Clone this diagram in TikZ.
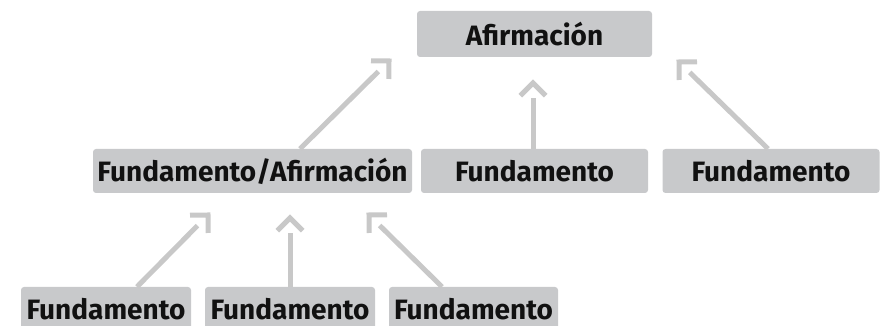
\documentclass[tikz,border=0pt]{standalone}
\usepackage{fontspec}
\setmainfont{Fira Sans}
\usetikzlibrary{calc}
\definecolor{boxfill}{HTML}{C8C9CB}
\definecolor{linecol}{HTML}{C8C8C8}
\definecolor{txt}{HTML}{111111}
\tikzset{
  box/.style={fill=boxfill, rounded corners=3pt, inner sep=0pt, text=txt,
    font=\fontsize{28}{32}\selectfont\bfseries, anchor=center},
  conn/.style={draw=linecol, line width=5pt, line cap=butt, line join=miter}
}
\newcommand\gapconn[2]{%
  \draw[conn] (#1) -- ($(#2)!15pt!(#1)$);
  \draw[conn] ($(#2)!18pt!45:(#1)$) -- (#2) -- ($(#2)!18pt!-45:(#1)$);
}
\begin{document}
\begin{tikzpicture}[x=1pt,y=1pt]
\useasboundingbox (0,0) rectangle (888,326);
\clip (0,0) rectangle (888,326);
\node[box, minimum width=235pt, minimum height=46pt] (A) at (534.5,292) {Afirmación};
\node[box, minimum width=319pt, minimum height=44pt] (FA) at (252.5,155) {Fundamento/Afirmación};
\node[box, minimum width=227pt, minimum height=44pt] (F1) at (534.5,155) {Fundamento};
\node[box, minimum width=217pt, minimum height=44pt] (F2) at (771,155) {Fundamento};
\node[box, minimum width=170pt, minimum height=44pt] (B1) at (106,17) {Fundamento};
\node[box, minimum width=170pt, minimum height=44pt] (B2) at (290,17) {Fundamento};
\node[box, minimum width=169pt, minimum height=44pt] (B3) at (473.5,17) {Fundamento};
\coordinate (S1) at ([xshift=47.5pt]FA.north);
\coordinate (S2) at ([xshift=-1.5pt]F1.north);
\coordinate (S3) at ([xshift=-3pt]F2.north);
\coordinate (S4) at ([xshift=31pt]B1.north);
\coordinate (S5) at (B2.north);
\coordinate (S6) at ([xshift=-31.5pt]B3.north);
\coordinate (T1) at (389,265);
\coordinate (T2) at (533,243);
\coordinate (T3) at (679,264);
\coordinate (T4) at (208,111);
\coordinate (T5) at (290,108);
\coordinate (T6) at (369,111);
\gapconn{S1}{T1}
\gapconn{S2}{T2}
\gapconn{S3}{T3}
\gapconn{S4}{T4}
\gapconn{S5}{T5}
\gapconn{S6}{T6}
\end{tikzpicture}
\end{document}
